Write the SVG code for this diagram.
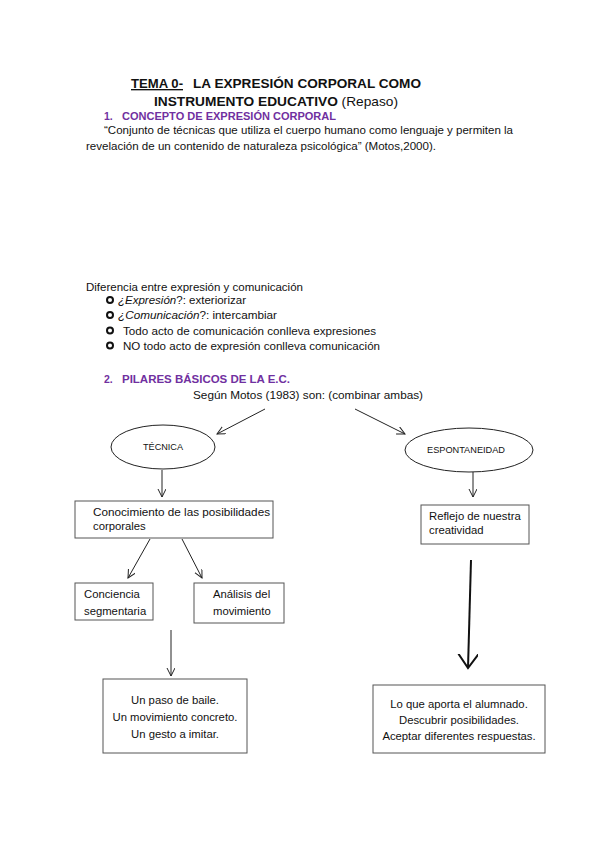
<svg xmlns="http://www.w3.org/2000/svg" width="599" height="848" viewBox="0 0 599 848">
<defs>
<style>
text{font-family:"Liberation Sans",Arial,sans-serif;fill:#111}
.t{font-size:13.5px;font-weight:bold}
.p{font-size:10.5px;font-weight:bold;fill:#7030A0}
.b{font-size:11.5px}
.s{font-size:11.3px}
.e{font-size:8.5px}
.box{fill:#fff;stroke:#555;stroke-width:1}
.ell{fill:#fff;stroke:#222;stroke-width:1}
.c{stroke:#222;stroke-width:1;fill:none}
.bul{fill:none;stroke:#111;stroke-width:2}
</style>
<marker id="ah" markerWidth="10" markerHeight="10" refX="8" refY="4" orient="auto" markerUnits="userSpaceOnUse">
<path d="M0,0 L8,4 L0,8" fill="none" stroke="#222" stroke-width="1"/>
</marker>
<marker id="ahb" markerWidth="24" markerHeight="24" refX="14" refY="10" orient="auto" markerUnits="userSpaceOnUse">
<path d="M0,0 L14,10 L0,20" fill="none" stroke="#111" stroke-width="2"/>
</marker>
</defs>

<g id="header">
<text class="t" x="131" y="88" text-decoration="underline" textLength="52" lengthAdjust="spacingAndGlyphs">TEMA 0-</text>
<text class="t" x="193" y="88" textLength="228" lengthAdjust="spacingAndGlyphs">LA EXPRESIÓN CORPORAL COMO</text>
<text class="t" x="154" y="106" textLength="244" lengthAdjust="spacingAndGlyphs">INSTRUMENTO EDUCATIVO <tspan font-weight="normal">(Repaso)</tspan></text>
<text class="p" x="104" y="120">1.</text>
<text class="p" x="122" y="120" textLength="214" lengthAdjust="spacingAndGlyphs">CONCEPTO DE EXPRESIÓN CORPORAL</text>
<text class="b" x="104" y="134" textLength="409" lengthAdjust="spacingAndGlyphs">“Conjunto de técnicas que utiliza el cuerpo humano como lenguaje y permiten la</text>
<text class="b" x="86" y="150" textLength="350" lengthAdjust="spacingAndGlyphs">revelación de un contenido de naturaleza psicológica” (Motos,2000).</text>
</g>

<g id="diferencia">
<text class="b" x="86" y="291" textLength="217" lengthAdjust="spacingAndGlyphs">Diferencia entre expresión y comunicación</text>
<circle class="bul" cx="110" cy="300" r="3"/>
<circle class="bul" cx="110" cy="315" r="3"/>
<circle class="bul" cx="110" cy="330.5" r="3"/>
<circle class="bul" cx="110" cy="345.5" r="3"/>
<text class="b" x="118" y="304" textLength="128" lengthAdjust="spacingAndGlyphs"><tspan font-style="italic">¿Expresión</tspan>?: exteriorizar</text>
<text class="b" x="118" y="319" textLength="159" lengthAdjust="spacingAndGlyphs"><tspan font-style="italic">¿Comunicación</tspan>?: intercambiar</text>
<text class="b" x="123" y="334.5" textLength="253" lengthAdjust="spacingAndGlyphs">Todo acto de comunicación conlleva expresiones</text>
<text class="b" x="123" y="350" textLength="257" lengthAdjust="spacingAndGlyphs">NO todo acto de expresión conlleva comunicación</text>
</g>

<g id="pilares">
<text class="p" x="104" y="383">2.</text>
<text class="p" x="122" y="383" textLength="168" lengthAdjust="spacingAndGlyphs">PILARES BÁSICOS DE LA E.C.</text>
<text class="b" x="193" y="399" textLength="230" lengthAdjust="spacingAndGlyphs">Según Motos (1983) son:  (combinar ambas)</text>
</g>

<g id="connectors">
<line class="c" x1="265" y1="409" x2="217" y2="434" marker-end="url(#ah)"/>
<line class="c" x1="355" y1="409" x2="405" y2="434" marker-end="url(#ah)"/>
<line class="c" x1="162" y1="470" x2="162" y2="497" marker-end="url(#ah)"/>
<line class="c" x1="473" y1="472" x2="473" y2="497" marker-end="url(#ah)"/>
<line class="c" x1="150" y1="539" x2="128" y2="578" marker-end="url(#ah)"/>
<line class="c" x1="182" y1="539" x2="202" y2="578" marker-end="url(#ah)"/>
<line class="c" x1="171" y1="630" x2="171" y2="676" marker-end="url(#ah)"/>
<line x1="471" y1="560" x2="468" y2="668" stroke="#111" stroke-width="2" marker-end="url(#ahb)"/>
</g>

<g id="tecnica">
<ellipse class="ell" cx="163" cy="447" rx="52" ry="22"/>
<text class="e" x="143" y="450" textLength="40" lengthAdjust="spacingAndGlyphs">TÉCNICA</text>
</g>

<g id="espontaneidad">
<ellipse class="ell" cx="469" cy="450" rx="64" ry="22"/>
<text class="e" x="427" y="453" textLength="78" lengthAdjust="spacingAndGlyphs">ESPONTANEIDAD</text>
</g>

<g id="conocimiento">
<rect class="box" x="75" y="501" width="198" height="37"/>
<text class="s" x="93" y="516" textLength="177" lengthAdjust="spacingAndGlyphs">Conocimiento de las posibilidades</text>
<text class="s" x="93" y="530">corporales</text>
</g>

<g id="conciencia">
<rect class="box" x="75" y="583" width="78" height="37"/>
<text class="s" x="84" y="598">Conciencia</text>
<text class="s" x="84" y="615">segmentaria</text>
</g>

<g id="analisis">
<rect class="box" x="194" y="583" width="90" height="40"/>
<text class="s" x="213" y="598">Análisis del</text>
<text class="s" x="213" y="615">movimiento</text>
</g>

<g id="reflejo">
<rect class="box" x="421" y="505" width="108" height="39"/>
<text class="s" x="429" y="520">Reflejo de nuestra</text>
<text class="s" x="429" y="534">creatividad</text>
</g>

<g id="unpaso">
<rect class="box" x="103" y="679" width="144" height="74"/>
<text class="s" x="175" y="704" text-anchor="middle">Un paso de baile.</text>
<text class="s" x="175" y="721" text-anchor="middle">Un movimiento concreto.</text>
<text class="s" x="175" y="738" text-anchor="middle">Un gesto a imitar.</text>
</g>

<g id="loque">
<rect class="box" x="373" y="685" width="172" height="68"/>
<text class="s" x="459" y="708" text-anchor="middle">Lo que aporta el alumnado.</text>
<text class="s" x="459" y="724" text-anchor="middle">Descubrir posibilidades.</text>
<text class="s" x="459" y="740" text-anchor="middle">Aceptar diferentes respuestas.</text>
</g>
</svg>
